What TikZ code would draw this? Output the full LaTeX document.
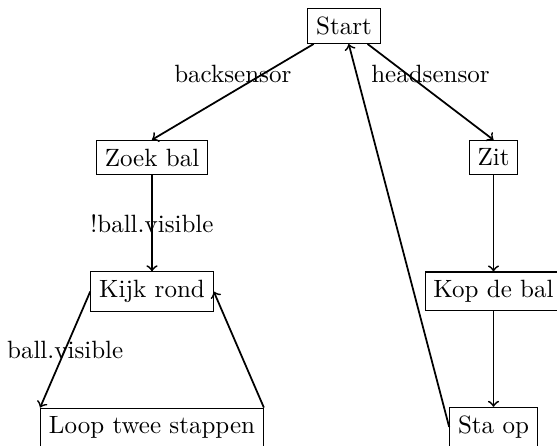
\documentclass[tikz,border=0pt]{standalone}
\begin{document}
\begin{tikzpicture}[x=1pt,y=1pt,
  state/.style={draw, line width=0.45pt},
  trans/.style={->, line width=0.7pt}]
\useasboundingbox (0,0) rectangle (222.8,-178.4);
% states
\node[state] (start) at (137.6,-10.4) {Start};
\node[state] (zoek)  at (60.8,-63)    {Zoek bal};
\node[state] (zit)   at (197.4,-63)   {Zit};
\node[state] (kijk)  at (60.8,-116.6) {Kijk rond};
\node[state] (kop)   at (197.4,-116.6) {Kop de bal};
\node[state] (loop)  at (60.8,-171)   {Loop twee stappen};
\node[state] (sta)   at (197.4,-170.8) {Sta op};
% transitions
\draw[trans] (start) -- node[above] {backsensor} (zoek.north);
\draw[trans] (start) -- node[above] {headsensor} (zit.north);
\draw[trans] (zoek) -- node {!ball.visible} (kijk);
\draw[trans] (kijk.west) -- node {ball.visible} (loop.north west);
\draw[trans] (loop.north east) -- (kijk.east);
\draw[trans] (zit) -- (kop);
\draw[trans] (kop) -- (sta);
\draw[trans] (sta.west) -- (start);
\end{tikzpicture}
\end{document}
